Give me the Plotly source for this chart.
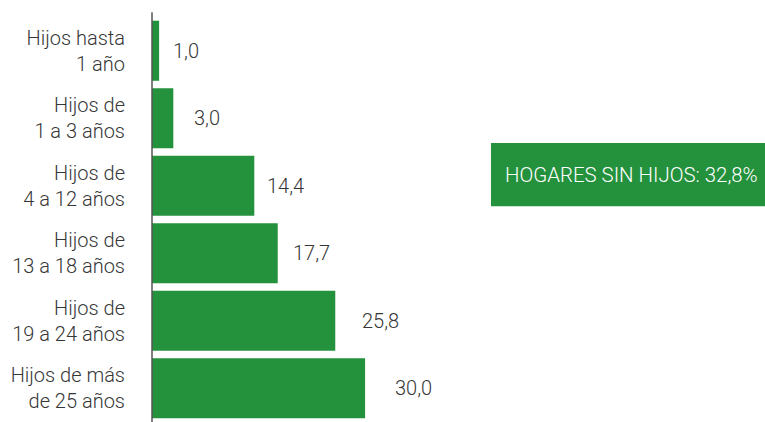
import plotly.graph_objects as go

categories = ["Hijos hasta<br>1 año", "Hijos de<br>1 a 3 años", "Hijos de<br>4 a 12 años",
              "Hijos de<br>13 a 18 años", "Hijos de<br>19 a 24 años", "Hijos de más<br>de 25 años"]
values = [1.0, 3.0, 14.4, 17.7, 25.8, 30.0]
value_labels = ["1,0", "3,0", "14,4", "17,7", "25,8", "30,0"]
label_shifts = [12, 19, 11, 13, 25, 28]
box_text = "HOGARES SIN HIJOS: 32,8%"

GREEN = "#24913c"
TEXT = "#363636"
FONT = "Roboto"

fig = go.Figure(go.Bar(
    x=values, y=categories, orientation="h",
    marker=dict(color=GREEN, line=dict(width=0)),
    hoverinfo="skip",
))

for v, c, t, s in zip(values, categories, value_labels, label_shifts):
    fig.add_annotation(x=v, y=c, text=t, showarrow=False, xanchor="left",
                       xshift=s, yshift=0,
                       font=dict(size=20, color=TEXT, family=FONT, weight=300))

# summary box
fig.add_shape(type="rect", xref="paper", yref="paper", x0=0.553, x1=1.0, y0=0.533, y1=0.689,
              fillcolor=GREEN, line=dict(width=0), layer="above")
fig.add_annotation(xref="paper", yref="paper", x=0.782, y=0.611, text=box_text, showarrow=False,
                   xanchor="center", yanchor="middle",
                   font=dict(size=20.4, color="#ffffff", family=FONT, weight=300))

# axis line (extends slightly above plot area)
fig.add_shape(type="line", xref="paper", yref="paper", x0=0, x1=0, y0=0, y1=1.012,
              line=dict(color="#555555", width=1.5))

fig.update_layout(
    width=765, height=422,
    margin=dict(l=152, r=0, t=17, b=0, autoexpand=False),
    paper_bgcolor="white", plot_bgcolor="white",
    bargap=0.11,
    showlegend=False,
    font=dict(family=FONT, size=20, color=TEXT),
    xaxis=dict(range=[0, 86.3], visible=False, fixedrange=True),
    yaxis=dict(autorange="reversed", showline=False, showgrid=False, zeroline=False,
               automargin=False,
               ticks="", ticklabelstandoff=26,
               tickfont=dict(size=20, color=TEXT, family=FONT, weight=300),
               fixedrange=True),
)

fig.write_html("out.html", config={"displayModeBar": False},
               post_script="document.body.style.margin='0';")
